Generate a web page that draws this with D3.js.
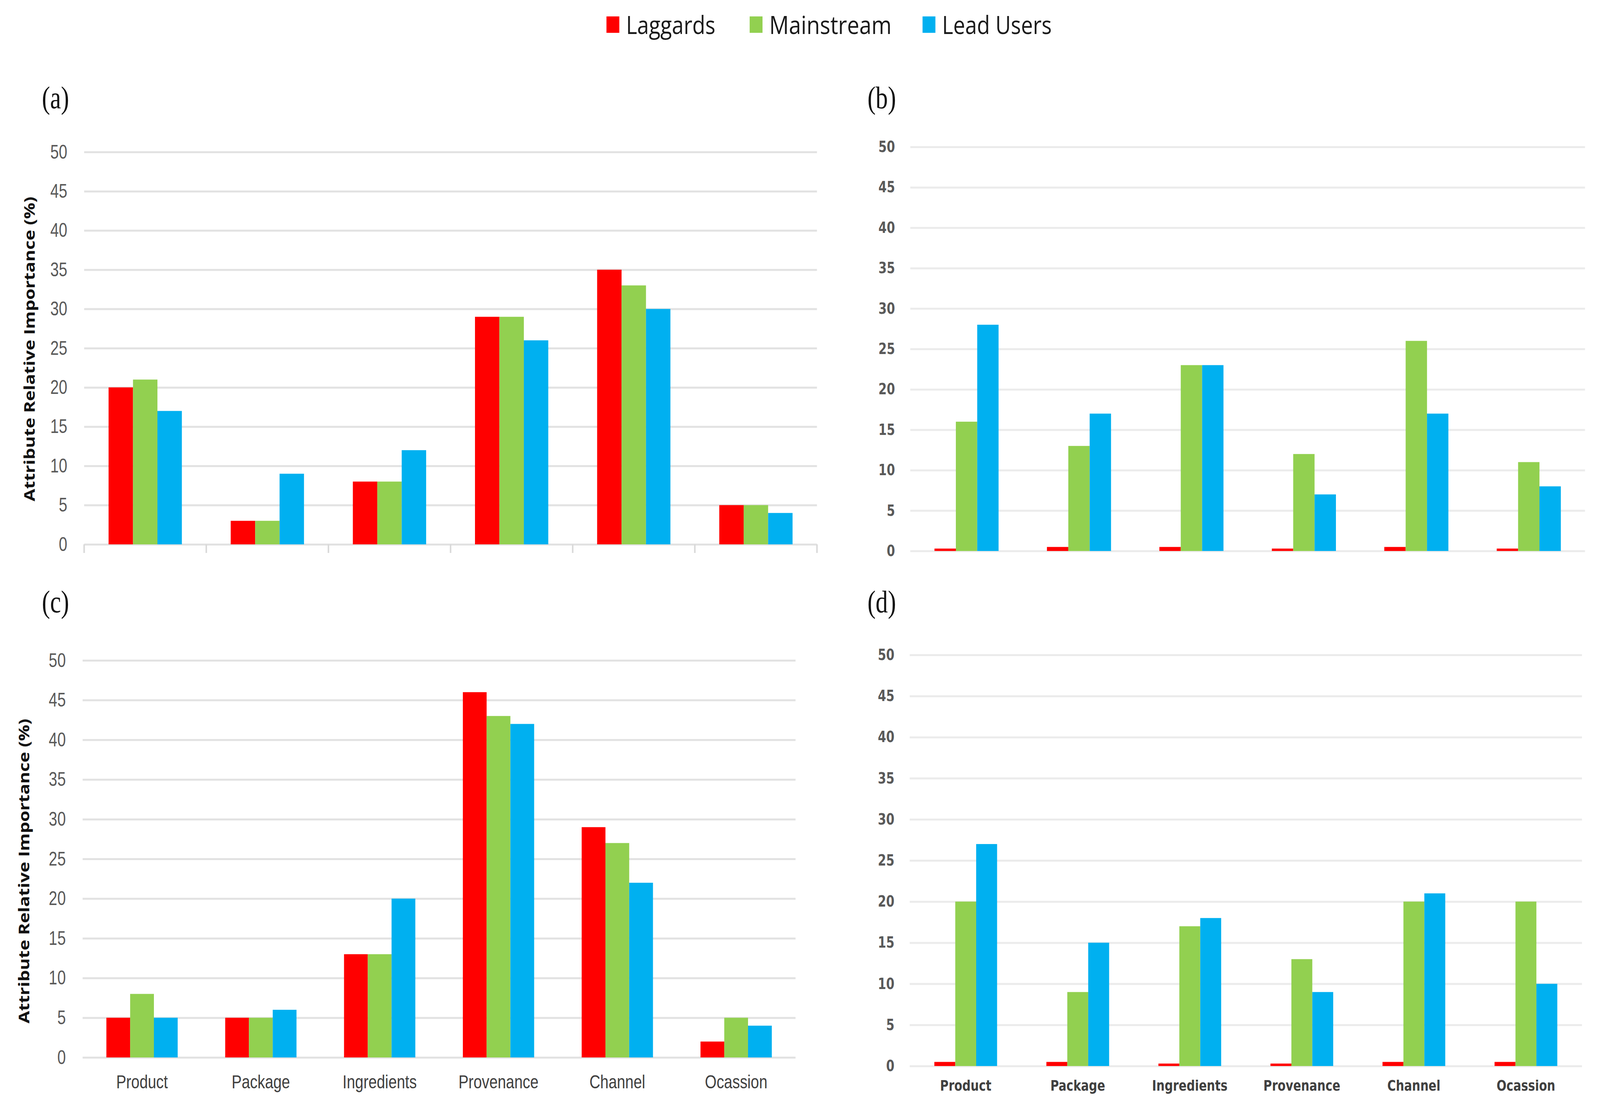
<!DOCTYPE html>
<html>
<head>
<meta charset="utf-8">
<script src="https://cdn.jsdelivr.net/npm/d3@7/dist/d3.min.js"></script>
<style>
  html, body { margin: 0; padding: 0; background: #fff; overflow: hidden; }
  svg { display: block; width: 100vw; height: 100vh; }
</style>
</head>
<body>
<div id="chart"></div>
<script>
// data
var categories = ["Product", "Package", "Ingredients", "Provenance", "Channel", "Ocassion"];
var groups = ["Laggards", "Mainstream", "Lead Users"];
var colors = ["#FF0000", "#92D050", "#00B0F0"];
var yTicks = [0, 5, 10, 15, 20, 25, 30, 35, 40, 45, 50];

var laggardsA   = [20, 3, 8, 29, 35, 5];
var mainstreamA = [21, 3, 8, 29, 33, 5];
var leadA       = [17, 9, 12, 26, 30, 4];

var laggardsB   = [0.3, 0.5, 0.5, 0.3, 0.5, 0.3];
var mainstreamB = [16, 13, 23, 12, 26, 11];
var leadB       = [28, 17, 23, 7, 17, 8];

var laggardsC   = [5, 5, 13, 46, 29, 2];
var mainstreamC = [8, 5, 13, 43, 27, 5];
var leadC       = [5, 6, 20, 42, 22, 4];

var laggardsD   = [0.5, 0.5, 0.3, 0.3, 0.5, 0.5];
var mainstreamD = [20, 9, 17, 13, 20, 20];
var leadD       = [27, 15, 18, 9, 21, 10];

var W = 5229, H = 2861;

// draw in the reference's 5229x2861 coordinates and stretch to the window
var svg = d3.select("#chart")
    .append("svg")
    .attr("viewBox", "0 0 " + W + " " + H)
    .attr("preserveAspectRatio", "none");

// legend across the top
var legendItems = [
    {x: 1982, w: 292},
    {x: 2450, w: 400},
    {x: 3015, w: 358}
];
var legend = svg.append("g");
groups.forEach(function(g, i) {
    legend.append("rect")
        .attr("x", legendItems[i].x)
        .attr("y", 42)
        .attr("width", 42)
        .attr("height", 42)
        .attr("fill", colors[i]);
    legend.append("text")
        .attr("x", legendItems[i].x + 64)
        .attr("y", 63)
        .attr("dominant-baseline", "central")
        .attr("font-family", "Open Sans, sans-serif")
        .attr("font-size", 64)
        .attr("fill", "#1a1a1a")
        .attr("textLength", legendItems[i].w)
        .attr("lengthAdjust", "spacingAndGlyphs")
        .text(g);
});

// panel layout
var panels = [
    {letter: "(a)", lx: 137, ly: 250, x0: 275, x1: 2670, y0: 1393, y50: 389,
     pad: 0.4, style: "left", xLabels: false, boundTicks: true, title: [95, 893],
     values: [laggardsA, mainstreamA, leadA]},
    {letter: "(b)", lx: 2835, ly: 250, x0: 2975, x1: 5180, y0: 1410, y50: 376,
     pad: 0.43, style: "right", xLabels: false, boundTicks: false, title: null,
     values: [laggardsB, mainstreamB, leadB]},
    {letter: "(c)", lx: 137, ly: 1540, x0: 270, x1: 2600, y0: 2706, y50: 1690,
     pad: 0.4, style: "left", xLabels: true, boundTicks: false, title: [78, 2229],
     values: [laggardsC, mainstreamC, leadC]},
    {letter: "(d)", lx: 2835, ly: 1540, x0: 2973, x1: 5170, y0: 2728, y50: 1676,
     pad: 0.44, style: "right", xLabels: true, boundTicks: false, title: null,
     values: [laggardsD, mainstreamD, leadD]}
];

var fonts = {
    left:  {family: "Liberation Sans, Arial, sans-serif", weight: 400, tick: 50, cat: 49, pad: 55, grid: "#E2E2E2"},
    right: {family: "DejaVu Sans, sans-serif", weight: 700, tick: 39, cat: 38, pad: 50, grid: "#EBEBEB"}
};

panels.forEach(drawPanel);

function drawPanel(p) {
    var f = fonts[p.style];
    var g = svg.append("g");

    var x = d3.scaleBand()
        .domain(categories)
        .range([p.x0, p.x1])
        .paddingInner(p.pad)
        .paddingOuter(p.pad / 2);

    var xs = d3.scaleBand()
        .domain(groups)
        .range([0, x.bandwidth()]);

    var y = d3.scaleLinear()
        .domain([0, 50])
        .range([p.y0, p.y50]);

    // gridlines + y tick labels
    var yAxisG = g.append("g")
        .attr("transform", "translate(" + p.x0 + ",0)")
        .call(d3.axisLeft(y)
            .tickValues(yTicks)
            .tickSize(-(p.x1 - p.x0))
            .tickPadding(f.pad));
    yAxisG.select(".domain").remove();
    yAxisG.selectAll("line")
        .attr("stroke", f.grid)
        .attr("stroke-width", 5);
    yAxisG.selectAll("text")
        .attr("font-family", f.family)
        .attr("font-weight", f.weight)
        .attr("font-size", f.tick)
        .attr("fill", "#595959");

    // category boundary ticks under the baseline
    if (p.boundTicks) {
        var step = x.step();
        g.append("g")
            .selectAll("line")
            .data(d3.range(categories.length + 1))
            .join("line")
                .attr("x1", d => p.x0 + d * step)
                .attr("x2", d => p.x0 + d * step)
                .attr("y1", p.y0)
                .attr("y2", p.y0 + 22)
                .attr("stroke", "#D9D9D9")
                .attr("stroke-width", 5);
    }

    // bars
    var rows = [];
    categories.forEach(function(c, ci) {
        groups.forEach(function(s, si) {
            rows.push({cat: c, series: s, si: si, value: p.values[si][ci]});
        });
    });
    g.append("g")
        .selectAll("rect")
        .data(rows)
        .join("rect")
            .attr("x", d => x(d.cat) + xs(d.series))
            .attr("y", d => y(d.value))
            .attr("width", xs.bandwidth())
            .attr("height", d => y(0) - y(d.value))
            .attr("fill", d => colors[d.si]);

    // category labels
    if (p.xLabels) {
        var xAxisG = g.append("g")
            .attr("transform", "translate(0," + p.y0 + ")")
            .call(d3.axisBottom(x).tickSize(0).tickPadding(p.style == "left" ? 44 : 36));
        xAxisG.select(".domain").remove();
        xAxisG.selectAll("text")
            .attr("font-family", f.family)
            .attr("font-weight", f.weight)
            .attr("font-size", f.cat)
            .attr("fill", "#404040");
    }

    // panel letter
    g.append("text")
        .attr("x", p.lx)
        .attr("y", p.ly)
        .attr("dominant-baseline", "central")
        .attr("font-family", "Liberation Serif, Times New Roman, serif")
        .attr("font-size", 80)
        .attr("fill", "#111")
        .text(p.letter);

    // y title
    if (p.title) {
        g.append("text")
            .attr("transform", "translate(" + p.title[0] + "," + p.title[1] + ") rotate(-90)")
            .attr("text-anchor", "middle")
            .attr("dominant-baseline", "central")
            .attr("font-family", "Open Sans, sans-serif")
            .attr("font-weight", 700)
            .attr("font-size", 48)
            .attr("fill", "#111")
            .attr("textLength", 780)
            .attr("lengthAdjust", "spacingAndGlyphs")
            .text("Attribute Relative Importance (%)");
    }
}
</script>
</body>
</html>
